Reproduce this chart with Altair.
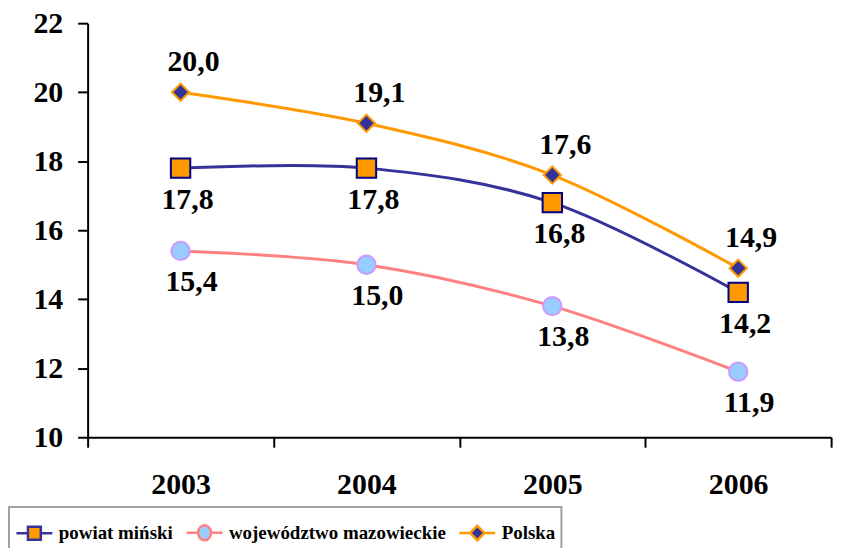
import altair as alt
import pandas as pd

years = [2003, 2004, 2005, 2006]
series_names = ["powiat miński", "województwo mazowieckie", "Polska"]
powiat = [17.8, 17.8, 16.8, 14.2]
mazowieckie = [15.4, 15.0, 13.8, 11.9]
polska = [20.0, 19.1, 17.6, 14.9]
y_ticks = [10, 12, 14, 16, 18, 20, 22]
x_ticks = [2002.5, 2003, 2003.5, 2004, 2004.5, 2005, 2005.5, 2006, 2006.5]

line_colors = ["#333399", "#FF8080", "#FF9900"]
marker_fill = ["#FF9900", "#99CCFF", "#333399"]
marker_stroke = ["#000080", "#CC99FF", "#FF9900"]
marker_shape = ["square", "circle", "diamond"]
marker_size = [380, 300, 300]
legend_paths = [
    "M-1,0L-0.36,0M0.36,0L1,0M-0.36,-0.36L0.36,-0.36L0.36,0.36L-0.36,0.36Z",
    "M-1,0L-0.36,0M0.36,0L1,0M0.36,0A0.36,0.42 0 1,1 -0.36,0A0.36,0.42 0 1,1 0.36,0Z",
    "M-1,0L-0.4,0M0.4,0L1,0M0,-0.4L0.4,0L0,0.4L-0.4,0Z",
]

rows = []
for name, vals in zip(series_names, [powiat, mazowieckie, polska]):
    for yr, v in zip(years, vals):
        rows.append({"year": yr, "series": name, "value": v,
                     "label": f"{v:.1f}".replace(".", ",")})
df = pd.DataFrame(rows)

FONT = "Times New Roman, Liberation Serif, serif"

x_enc = alt.X(
    "year:Q",
    scale=alt.Scale(domain=[2002.5, 2006.5], nice=False, zero=False),
    axis=alt.Axis(
        values=x_ticks,
        labelExpr="datum.value % 1 == 0 ? format(datum.value, 'd') : ''",
        tickColor={"condition": {"test": "datum.value % 1 != 0", "value": "black"}, "value": "transparent"},
        labelOverlap=False,
        labelFlush=False,
        title=None,
        grid=False,
        labelFont=FONT,
        labelFontSize=30,
        labelFontWeight="bold",
        labelColor="black",
        labelPadding=23,
        tickSize=10,
        tickWidth=2,
        domainColor="black",
        domainWidth=2,
    ),
)
y_enc = alt.Y(
    "value:Q",
    scale=alt.Scale(domain=[10, 22], nice=False, zero=False),
    axis=alt.Axis(
        values=y_ticks,
        format="d",
        title=None,
        grid=False,
        labelFont=FONT,
        labelFontSize=30,
        labelFontWeight="bold",
        labelColor="black",
        labelPadding=15,
        tickSize=10,
        tickWidth=2,
        tickColor="black",
        domainColor="black",
        domainWidth=2,
    ),
)

base = alt.Chart(df)

lines = base.mark_line(interpolate="cardinal", strokeWidth=3).encode(
    x=x_enc, y=y_enc,
    color=alt.Color("series:N", scale=alt.Scale(domain=series_names, range=line_colors), legend=None),
)

points = base.mark_point(filled=True, strokeWidth=2, opacity=1).encode(
    x=x_enc, y=y_enc,
    shape=alt.Shape("series:N", scale=alt.Scale(domain=series_names, range=marker_shape), legend=None),
    fill=alt.Fill("series:N", scale=alt.Scale(domain=series_names, range=marker_fill), legend=None),
    stroke=alt.Stroke("series:N", scale=alt.Scale(domain=series_names, range=marker_stroke), legend=None),
    size=alt.Size("series:N", scale=alt.Scale(domain=series_names, range=marker_size), legend=None),
)

leg = alt.Legend(
    title=None, orient="none", legendX=-79, legendY=486, direction="horizontal",
    columns=3, symbolSize=1296, symbolStrokeWidth=2.5, symbolOpacity=1,
    symbolFillColor="white", symbolStrokeColor="black", labelFont=FONT,
    labelFontSize=19, labelFontWeight="bold", labelColor="black", labelLimit=0,
    labelOffset=5, columnPadding=8, padding=6, strokeColor="#A0A0A0",
    fillColor="white",
)
legend_layer = base.mark_point(filled=True, opacity=0).encode(
    x=x_enc, y=y_enc,
    shape=alt.Shape("series:N", scale=alt.Scale(domain=series_names, range=legend_paths), legend=leg),
    fill=alt.Fill("series:N", scale=alt.Scale(domain=series_names, range=marker_fill), legend=leg),
    stroke=alt.Stroke("series:N", scale=alt.Scale(domain=series_names, range=line_colors), legend=leg),
)

def labels(name, dx, dy):
    return base.transform_filter(alt.datum.series == name).mark_text(
        font=FONT, fontSize=30, fontWeight="bold", color="black",
        align="center", baseline="alphabetic", dx=dx, dy=dy,
    ).encode(x=x_enc, y=y_enc, text="label:N")

chart = alt.layer(
    lines, points, legend_layer,
    labels("powiat miński", 7, 41),
    labels("województwo mazowieckie", 11, 40),
    labels("Polska", 13, -21),
).resolve_scale(
    shape="independent", fill="independent", stroke="independent"
).properties(
    width=747, height=416,
    padding={"left": 80, "top": 14, "right": 28, "bottom": 110},
    autosize=alt.AutoSizeParams(type="none"),
).configure_view(stroke=None).configure_legend(strokeWidth=2)

chart.save("out.html", embed_options={"renderer": "svg", "actions": False})
